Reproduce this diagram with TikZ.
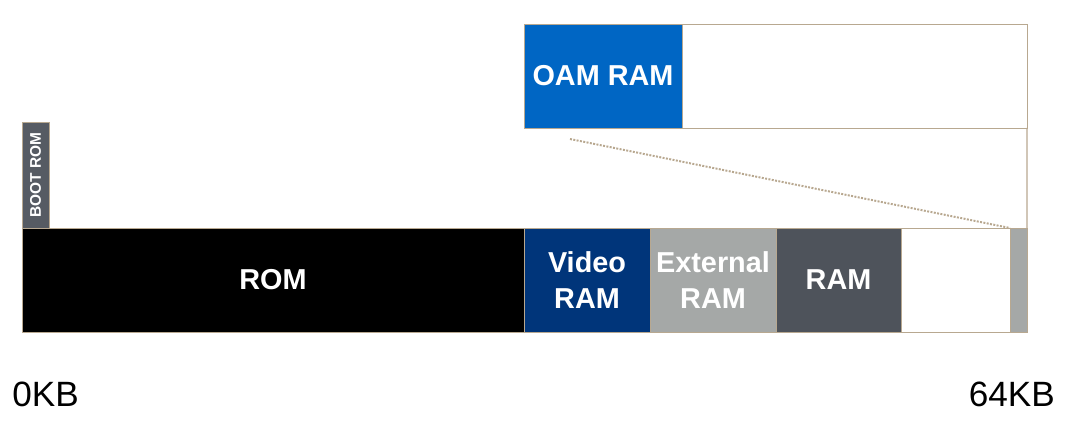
\documentclass[tikz,border=0pt]{standalone}
\usepackage{fontspec}
\setmainfont{Liberation Sans}
\usetikzlibrary{positioning}
\definecolor{edgetan}{HTML}{B8A890}
\definecolor{videoblue}{HTML}{00357A}
\definecolor{extgray}{HTML}{A5A8A7}
\definecolor{ramgray}{HTML}{4E535B}
\definecolor{bootgray}{HTML}{565B63}
\definecolor{oamblue}{HTML}{0066C4}
\tikzset{
	memblock/.style={draw=edgetan, line width=0.5pt, inner sep=0pt, outer sep=0pt, minimum height=2.6cm, text=white, align=center, font=\fontsize{20.5}{25.5}\selectfont\bfseries},
	kblabel/.style={inner sep=0pt, font=\fontsize{25}{30}\selectfont},
	zoomline/.style={draw=edgetan, line width=1.4pt, densely dotted},
}

\begin{document}
\begin{tikzpicture}
			%%%%% START %%%%%
			
			\useasboundingbox (0, 0) rectangle (26.675, 10.5);
			
			% main memory bar
			\node[memblock, fill=black, minimum width=12.55cm, anchor=south west] (rom) at (0.55, 2.2) {ROM};
			\node[memblock, fill=videoblue, minimum width=3.15cm, right=0pt of rom] (vram) {Video\\RAM};
			\node[memblock, fill=extgray, minimum width=3.15cm, right=0pt of vram] (extram) {External\\RAM};
			\node[memblock, fill=ramgray, minimum width=3.125cm, right=0pt of extram] (ram) {RAM};
			\node[memblock, fill=white, minimum width=2.725cm, right=0pt of ram] (high) {};
			\node[memblock, fill=extgray, minimum width=0.425cm, right=0pt of high] (tail) {};
			
			% boot rom on top of the bar
			\node[memblock, fill=bootgray, rotate=90, minimum width=2.65cm, minimum height=0.675cm, anchor=north west, font=\fontsize{11}{13}\selectfont\bfseries] (boot) at (rom.north west) {BOOT ROM};
			
			% zoomed area
			\node[memblock, fill=oamblue, minimum width=3.95cm, anchor=south west] (oam) at (13.1, 7.3) {OAM RAM};
			\node[memblock, fill=white, minimum width=8.625cm, right=0pt of oam] (oamrest) {};
			
			\coordinate (zoomstart) at (14.25, 7.025);
			\draw[zoomline] (zoomstart) -- (tail.north west);
			\draw[draw=edgetan, line width=0.8pt] (oamrest.south east) -- (tail.north east);
			
			% address labels
			\node[kblabel, anchor=base west] (start) at (0.3, 0.33) {0KB};
			\node[kblabel, anchor=base east] (end) at (26.375, 0.33) {64KB};
			
			%%%%% END %%%%%
\end{tikzpicture}
\end{document}
